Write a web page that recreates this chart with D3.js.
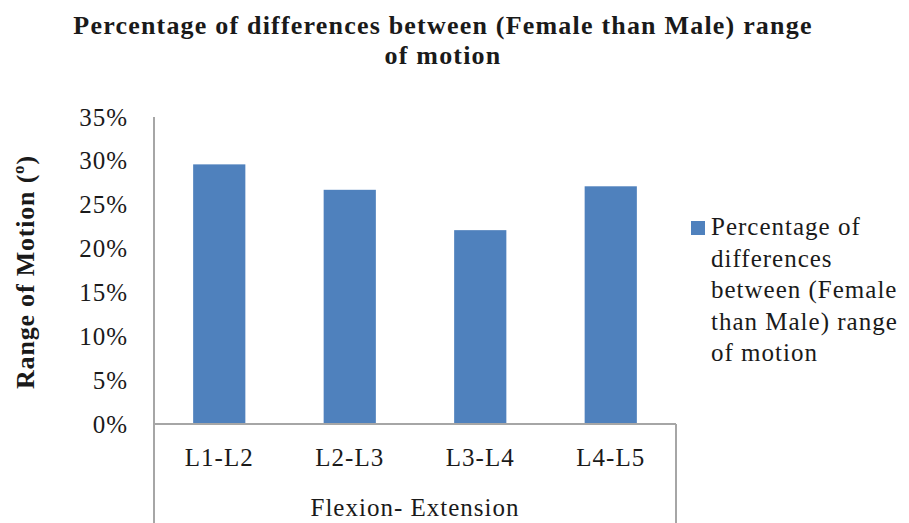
<!DOCTYPE html>
<html>
<head>
<meta charset="utf-8">
<script src="https://cdn.jsdelivr.net/npm/d3@7"></script>
<style>
  body { margin: 0; background: #fff; }
  text { font-family: "Liberation Serif", "DejaVu Serif", serif; fill: #1a1a1a; }
</style>
</head>
<body>
<div id="chart"></div>
<script>
// chart data
var categories = ["L1-L2", "L2-L3", "L3-L4", "L4-L5"];
var values = [0.296, 0.267, 0.221, 0.271];
var yTicks = [0, 0.05, 0.10, 0.15, 0.20, 0.25, 0.30, 0.35];
var seriesName = "Percentage of differences between (Female than Male) range of motion";
var legendLines = ["Percentage of", "differences", "between (Female", "than Male) range", "of motion"];
var titleLines = ["Percentage of differences between (Female than Male) range", "of motion"];
var groupLabel = "Flexion- Extension";
var yTitle = "Range of Motion (\u00ba)";

var W = 909, H = 523;
var margin = {top: 117, right: 233, bottom: 99, left: 154},
    width = W - margin.left - margin.right,
    height = H - margin.top - margin.bottom;

var svg = d3.select("#chart").append("svg")
    .attr("width", W)
    .attr("height", H);

var g = svg.append("g")
    .attr("transform", "translate(" + margin.left + "," + margin.top + ")");

// set the ranges
var x = d3.scaleBand().domain(categories).range([0, width]);
var y = d3.scaleLinear().domain([0, 0.35]).range([height, 0]);

var axisColor = "#a6a6a6";

// bars
var barW = x.bandwidth() * 0.4;
g.selectAll(".bar")
    .data(values)
  .enter().append("rect")
    .attr("class", "bar")
    .attr("x", function(d, i) { return x(categories[i]) + (x.bandwidth() - barW) / 2; })
    .attr("y", function(d) { return y(d); })
    .attr("width", barW)
    .attr("height", function(d) { return y(0) - y(d); })
    .style("fill", "#4f81bd");

// y axis
var yAxis = g.append("g")
    .call(d3.axisLeft(y).tickValues(yTicks).tickSize(0).tickPadding(26)
      .tickFormat(d3.format(".0%")));
yAxis.select(".domain").remove();
yAxis.selectAll("text")
    .style("font-size", "25px")
    .style("letter-spacing", "1px");

// y axis line runs down through the category box
g.append("line")
    .attr("x1", 0).attr("x2", 0)
    .attr("y1", 0).attr("y2", H - margin.top)
    .style("stroke", axisColor).style("stroke-width", 2);

// x axis
var xAxis = g.append("g")
    .attr("transform", "translate(0," + height + ")")
    .call(d3.axisBottom(x).tickSize(0).tickPadding(24));
xAxis.select(".domain").remove();
xAxis.selectAll("text")
    .style("font-size", "25px")
    .style("letter-spacing", "1px");

g.append("line")
    .attr("x1", 0).attr("x2", width)
    .attr("y1", height).attr("y2", height)
    .style("stroke", axisColor).style("stroke-width", 2);

g.append("line")
    .attr("x1", width).attr("x2", width)
    .attr("y1", height).attr("y2", H - margin.top)
    .style("stroke", axisColor).style("stroke-width", 2);

// group label
g.append("text")
    .attr("x", width / 2)
    .attr("y", height + 92)
    .style("text-anchor", "middle")
    .style("font-size", "25px")
    .style("letter-spacing", "1px")
    .text(groupLabel);

// y title
svg.append("text")
    .attr("transform", "translate(34,272) rotate(-90)")
    .style("text-anchor", "middle")
    .style("font-size", "26px")
    .style("font-weight", "bold")
    .style("letter-spacing", "0.8px")
    .text(yTitle);

// title
svg.selectAll(".title")
    .data(titleLines)
  .enter().append("text")
    .attr("class", "title")
    .attr("x", 443)
    .attr("y", function(d, i) { return 34 + i * 30; })
    .style("text-anchor", "middle")
    .style("font-size", "26px")
    .style("font-weight", "bold")
    .style("letter-spacing", "1.2px")
    .text(function(d) { return d; });

// legend
var legend = svg.append("g")
    .attr("transform", "translate(691,221)");
legend.append("rect")
    .attr("width", 14).attr("height", 14)
    .style("fill", "#4f81bd");
legend.append("title").text(seriesName);
legend.selectAll(".leg")
    .data(legendLines)
  .enter().append("text")
    .attr("class", "leg")
    .attr("x", 20)
    .attr("y", function(d, i) { return 14 + i * 31.5; })
    .style("font-size", "25px")
    .style("letter-spacing", "1px")
    .text(function(d) { return d; });
</script>
</body>
</html>
